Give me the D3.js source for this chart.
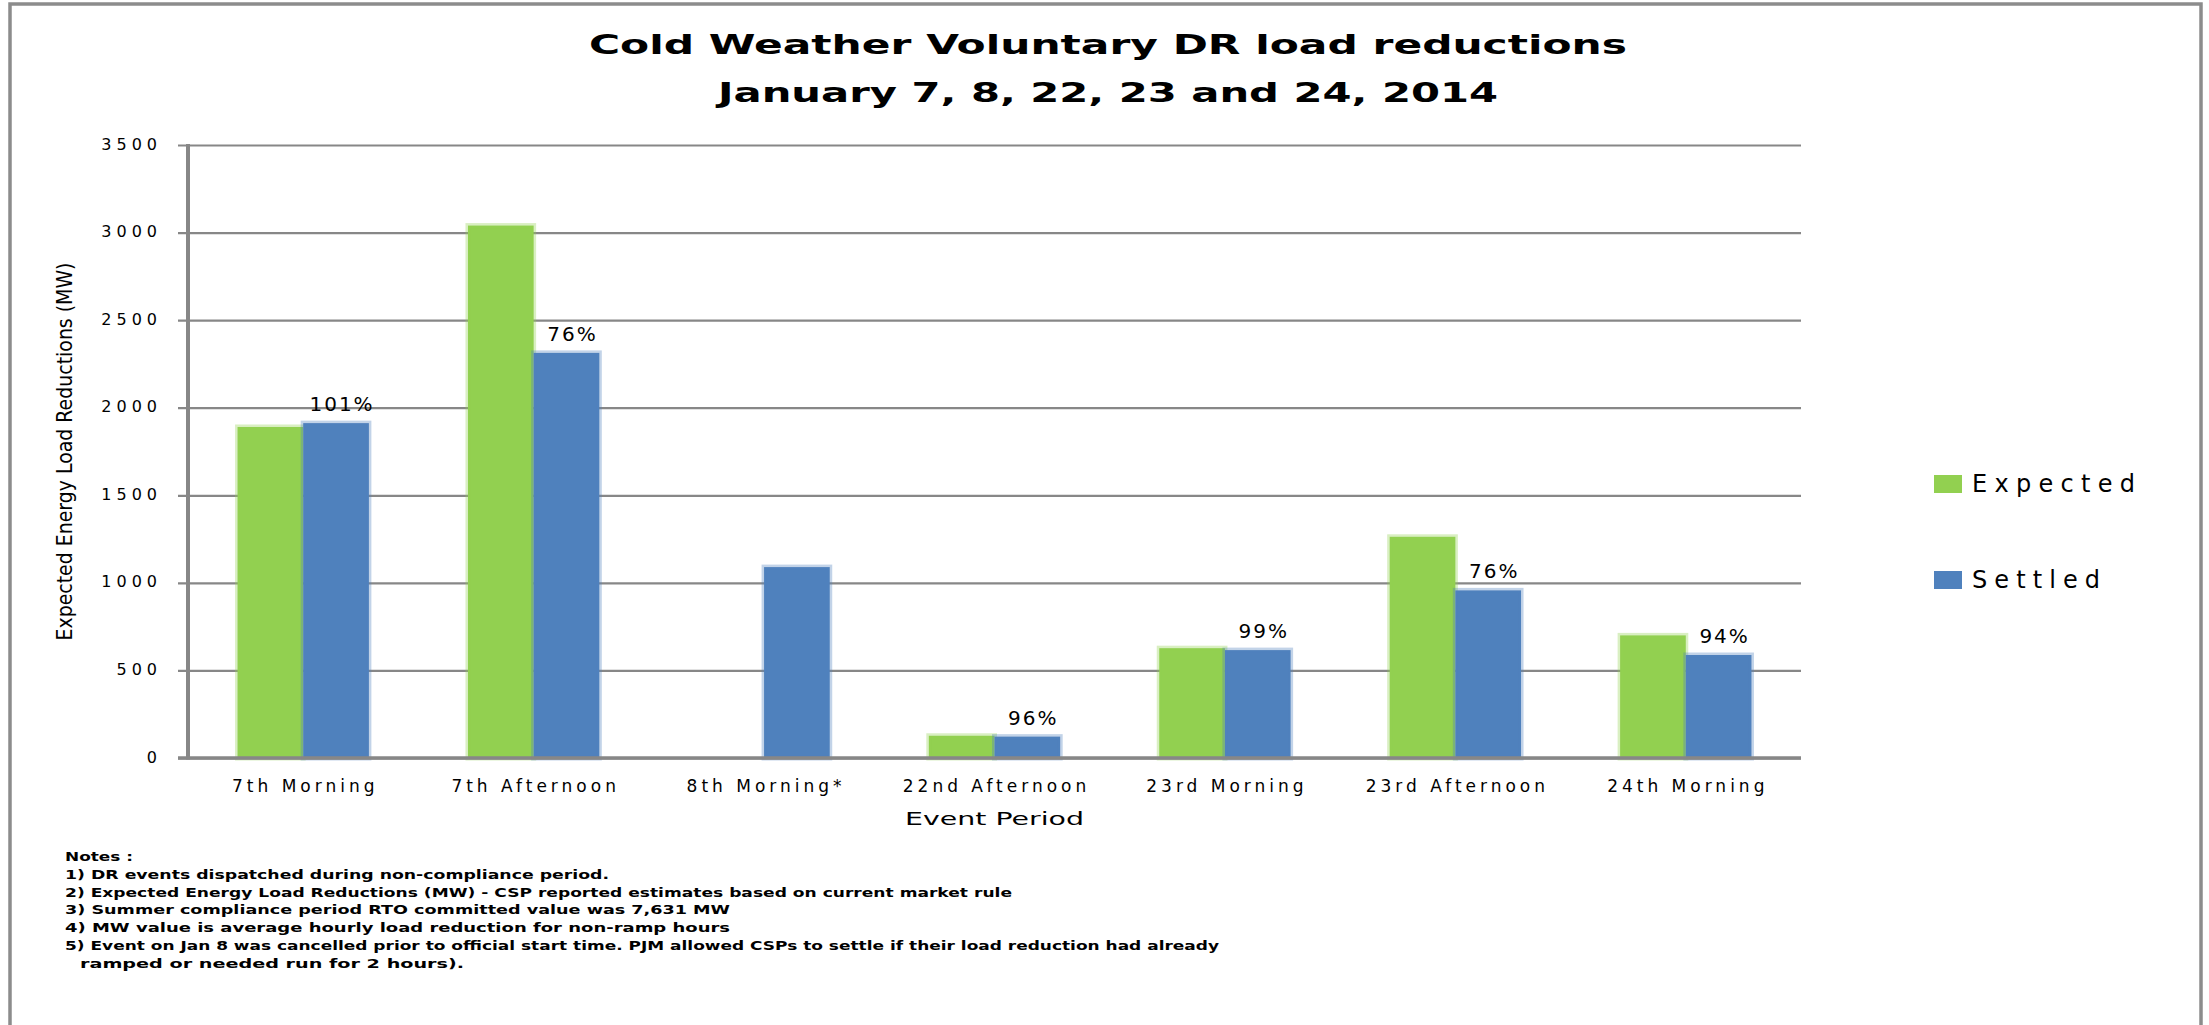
<!DOCTYPE html>
<html>
<head>
<meta charset="utf-8">
<script src="https://cdn.jsdelivr.net/npm/d3@7"></script>
<style>
  html, body { margin: 0; padding: 0; background: #fff; }
  svg { display: block; }
  text { font-family: "DejaVu Sans", Verdana, sans-serif; fill: #000; }
</style>
</head>
<body>
<svg id="chart" width="2209" height="1025"></svg>
<script>
// ---------- data ----------
const titleLines = ["Cold Weather Voluntary DR load reductions", "January 7, 8, 22, 23 and 24, 2014"];
const categories = ["7th Morning", "7th Afternoon", "8th Morning*", "22nd Afternoon", "23rd Morning", "23rd Afternoon", "24th Morning"];
const seriesNames = ["Expected", "Settled"];
const expected = [1890, 3040, 0, 127, 627, 1263, 700];
const settled = [1912, 2313, 1090, 122, 616, 957, 588];
const pctLabels = ["101%", "76%", "", "96%", "99%", "76%", "94%"];
const yTicks = [0, 500, 1000, 1500, 2000, 2500, 3000, 3500];
const yTitle = "Expected Energy Load Reductions (MW)";
const xTitle = "Event Period";
const notes = [
  "Notes :",
  "1) DR events dispatched during non-compliance period.",
  "2) Expected Energy Load Reductions (MW) - CSP reported estimates based on current market rule",
  "3) Summer compliance period RTO committed value was 7,631 MW",
  "4) MW value is average hourly load reduction for non-ramp hours",
  "5) Event on Jan 8 was cancelled prior to official start time. PJM allowed CSPs to settle if their load reduction had already",
  "ramped or needed run for 2 hours)."
];

// ---------- layout ----------
const colors = {Expected: "#92D050", Settled: "#4F81BD"};
const plot = {left: 188, right: 1801, top: 145, bottom: 758};
const svg = d3.select("#chart");

// border
svg.append("rect").attr("x", 10).attr("y", 4).attr("width", 2191).attr("height", 1100)
  .attr("fill", "none").attr("stroke", "#8c8c8c").attr("stroke-width", 3.5);

const x = d3.scaleBand().domain(categories).range([plot.left, plot.right])
  .paddingInner(0.43).paddingOuter(0.215);
const xs = d3.scaleBand().domain(seriesNames).range([0, x.bandwidth()]);
const y = d3.scaleLinear().domain([0, 3500]).range([plot.bottom, plot.top]);

// gridlines + y tick labels
const yAxis = d3.axisLeft(y).tickValues(yTicks).tickSize(0).tickFormat(d => String(d));
const gy = svg.append("g").attr("transform", `translate(${plot.left},0)`).call(yAxis);
gy.select(".domain").remove();
gy.selectAll(".tick text").attr("x", -26).attr("dy", "0.25em")
  .style("font-size", "16px").style("letter-spacing", "5px").attr("fill", "#000");
gy.selectAll(".tick").append("line")
  .attr("x1", -10).attr("x2", plot.right - plot.left)
  .attr("stroke", "#878787").attr("stroke-width", 2.2);

// bars
const rows = categories.map((c, i) => ({cat: c, Expected: expected[i], Settled: settled[i], pct: pctLabels[i]}));
const groups = svg.append("g").selectAll("g").data(rows).join("g")
  .attr("transform", d => `translate(${x(d.cat)},0)`);
groups.selectAll("rect").data(d => seriesNames.map(s => ({s, v: d[s]})).filter(e => e.v > 0)).join("rect")
  .attr("x", e => xs(e.s))
  .attr("width", xs.bandwidth())
  .attr("y", e => y(e.v))
  .attr("height", e => y(0) - y(e.v))
  .attr("fill", e => colors[e.s])
  .attr("stroke", e => colors[e.s]).attr("stroke-opacity", 0.35).attr("stroke-width", 5);

// percentage labels
groups.filter(d => d.pct).append("text")
  .attr("x", xs("Settled") + xs.bandwidth() / 2 + 6)
  .attr("y", d => y(d.Settled) - 12)
  .attr("text-anchor", "middle")
  .style("font-size", "20px").style("letter-spacing", "2px")
  .text(d => d.pct);

// axis lines
svg.append("line").attr("x1", plot.left).attr("x2", plot.left).attr("y1", plot.top - 1).attr("y2", plot.bottom + 1.5)
  .attr("stroke", "#878787").attr("stroke-width", 4);
svg.append("line").attr("x1", plot.left - 10).attr("x2", plot.right).attr("y1", plot.bottom).attr("y2", plot.bottom)
  .attr("stroke", "#878787").attr("stroke-width", 3.5);

// x labels
const xAxis = d3.axisBottom(x).tickSize(0).tickPadding(0);
const gx = svg.append("g").attr("transform", `translate(0,${plot.bottom})`).call(xAxis);
gx.select(".domain").remove();
gx.selectAll(".tick text").attr("y", 34).attr("dy", 0).attr("dx", 2)
  .style("font-size", "17px").style("letter-spacing", "4px").attr("fill", "#000");

// axis titles
svg.append("text").attr("x", (plot.left + plot.right) / 2).attr("y", 825)
  .attr("text-anchor", "middle").attr("textLength", 179).attr("lengthAdjust", "spacingAndGlyphs")
  .style("font-size", "18px").text(xTitle);
svg.append("text").attr("transform", `translate(72,${(plot.top + plot.bottom) / 2}) rotate(-90)`)
  .attr("text-anchor", "middle").attr("textLength", 378).attr("lengthAdjust", "spacingAndGlyphs")
  .style("font-size", "21px").text(yTitle);

// title
const titleW = [1038, 780];
svg.selectAll(".title").data(titleLines).join("text").attr("class", "title")
  .attr("x", 1108).attr("y", (d, i) => 54 + i * 48)
  .attr("text-anchor", "middle").attr("textLength", (d, i) => titleW[i]).attr("lengthAdjust", "spacingAndGlyphs")
  .style("font-size", "27px").style("font-weight", "bold").text(d => d);

// legend
const leg = svg.append("g").selectAll("g").data(seriesNames).join("g")
  .attr("transform", (d, i) => `translate(1934,${475 + i * 96})`);
leg.append("rect").attr("width", 28).attr("height", 18).attr("fill", d => colors[d]);
leg.append("text").attr("x", 38).attr("y", 17)
  .attr("textLength", (d, i) => [163, 128][i]).attr("lengthAdjust", "spacing")
  .style("font-size", "24px").text(d => d);

// notes
const noteX = [65, 65, 65, 65, 65, 65, 80];
const noteW = [68, 544, 947, 665, 665, 1154, 384];
svg.append("g").selectAll("text").data(notes).join("text")
  .attr("x", (d, i) => noteX[i])
  .attr("y", (d, i) => 861 + i * 17.8)
  .attr("textLength", (d, i) => noteW[i]).attr("lengthAdjust", "spacingAndGlyphs")
  .style("font-size", "13px").style("font-weight", "bold")
  .text(d => d);
</script>
</body>
</html>
